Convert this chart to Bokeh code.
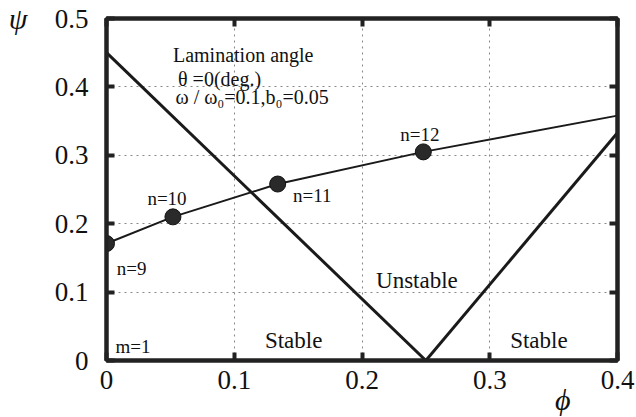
from bokeh.plotting import figure
from bokeh.models import Label, LinearAxis, FixedTicker, Range1d, Title
from bokeh.embed import file_html
from bokeh.resources import INLINE

# Data
boundary_left_x = [0.0, 0.25]
boundary_left_y = [0.45, 0.0]
boundary_right_x = [0.25, 0.4]
boundary_right_y = [0.0, 0.333]
n_curve_x = [0.0, 0.052, 0.134, 0.248, 0.4]
n_curve_y = [0.171, 0.21, 0.258, 0.305, 0.358]
pts_x = [0.0, 0.052, 0.134, 0.248]
pts_y = [0.171, 0.21, 0.258, 0.305]
x_ticks = [0, 0.1, 0.2, 0.3, 0.4]
y_ticks = [0, 0.1, 0.2, 0.3, 0.4, 0.5]

SERIF = "'Liberation Serif', 'Times New Roman', serif"

p = figure(width=636, height=417, output_backend="svg", toolbar_location=None,
           x_range=Range1d(0, 0.4), y_range=Range1d(0, 0.5),
           min_border_left=106, min_border_right=19, min_border_top=18, min_border_bottom=57,
           x_axis_location=None, y_axis_location=None)
p.background_fill_color = "white"
p.border_fill_color = "white"
p.outline_line_color = "#222222"
p.outline_line_width = 4

def make_axis(ticks, labels):
    ax = LinearAxis(ticker=FixedTicker(ticks=ticks))
    ax.axis_line_color = "#222222"
    ax.axis_line_width = 4
    ax.major_tick_in = 8
    ax.major_tick_out = 0
    ax.major_tick_line_width = 4
    ax.major_tick_line_color = "#222222"
    ax.minor_tick_line_color = None
    ax.major_label_text_font = SERIF
    ax.major_label_text_font_size = "27px"
    ax.major_label_text_color = "#111111"
    if labels:
        ax.major_label_overrides = {0: "0"}
    else:
        ax.major_label_overrides = {t: "" for t in ticks}
    return ax

xb = make_axis(x_ticks, True)
xt = make_axis(x_ticks, False)
yl = make_axis(y_ticks, True)
yr = make_axis(y_ticks, False)
xb.major_label_standoff = 10
yl.major_label_standoff = 18
p.add_layout(xb, "below")
p.add_layout(xt, "above")
p.add_layout(yl, "left")
p.add_layout(yr, "right")

HAS_ALIGN = "axis_label_align" in LinearAxis.properties()

# symbol-only axis for the y symbol, label placed at the top end
ya = LinearAxis(ticker=FixedTicker(ticks=[]))
ya.axis_line_color = None
ya.major_tick_line_color = None
ya.minor_tick_line_color = None
ya.major_tick_in = 0
ya.major_tick_out = 0
ya.major_label_text_font_size = "0px"
ya.axis_label = "ψ"
ya.axis_label_orientation = "horizontal"
ya.axis_label_text_font = SERIF
ya.axis_label_text_font_size = "30px"
ya.axis_label_text_font_style = "italic"
ya.axis_label_text_color = "#111111"
ya.axis_label_text_baseline = "top"
ya.axis_label_standoff = 24
if HAS_ALIGN:
    ya.axis_label_align = "end"
p.add_layout(ya, "left")

# x symbol as a title under the axis, shifted in from the right end
tx = Title(text="ϕ", align="right", offset=47, text_font=SERIF, text_font_size="30px",
           text_font_style="italic", text_color="#111111", standoff=-22)
p.add_layout(tx, "below")

p.xgrid.ticker = FixedTicker(ticks=[0.1, 0.2, 0.3])
p.ygrid.ticker = FixedTicker(ticks=[0.1, 0.2, 0.3, 0.4])
for g in (p.xgrid, p.ygrid):
    g.grid_line_color = "#888888"
    g.grid_line_dash = "2 4"
    g.grid_line_width = 1

p.line(boundary_left_x, boundary_left_y, line_color="#1a1a1a", line_width=3)
p.line(boundary_right_x, boundary_right_y, line_color="#1a1a1a", line_width=3)
p.line(n_curve_x, n_curve_y, line_color="#1a1a1a", line_width=2)
p.scatter(pts_x, pts_y, size=16, fill_color="#2a2a2a", line_color="#111111", line_width=1)

def lab(x, y, t, size="19px"):
    p.add_layout(Label(x=x, y=y, text=t, text_font=SERIF, text_font_size=size,
                       text_color="#111111", text_baseline="alphabetic", text_align="left"))

lab(0.052, 0.446, "Lamination angle", "20px")
lab(0.056, 0.412, "θ =0(deg.)", "20px")
lab(0.054, 0.385, "ω / ω₀=0.1,b₀=0.05", "20px")
lab(0.23, 0.33, "n=12")
lab(0.146, 0.241, "n=11")
lab(0.032, 0.237, "n=10")
lab(0.008, 0.134, "n=9")
lab(0.007, 0.02, "m=1")
lab(0.124, 0.029, "Stable", "23px")
lab(0.211, 0.117, "Unstable", "23px")
lab(0.316, 0.029, "Stable", "23px")

open("out.html", "w").write(file_html(p, INLINE))
